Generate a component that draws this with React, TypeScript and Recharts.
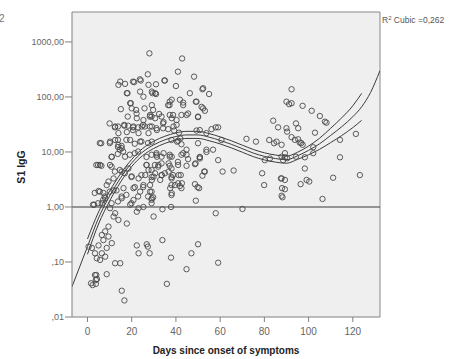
import { CartesianGrid, ComposedChart, Line, ReferenceLine, Scatter, XAxis, YAxis } from 'recharts'

const FONT = "'Liberation Sans', Arial, sans-serif"

// [days since onset, S1 IgG]
const s1Samples: [number, number][] = [
  [28.0, 620], [14.8, 190], [14.0, 166], [17.0, 173], [21.1, 186], [24.1, 199], [27.3, 258], [27.6, 166],
  [31.0, 170], [34.8, 199], [40.9, 288], [40.0, 158], [17.8, 117], [23.8, 125], [25.3, 101], [29.1, 125],
  [31.0, 113], [19.3, 77], [20.0, 62], [15.1, 60], [22.0, 58], [25.8, 62], [29.1, 71], [37.1, 71],
  [38.1, 89], [18.2, 44], [22.3, 41], [25.3, 38], [28.3, 47], [30.6, 41], [10.0, 33], [12.5, 29],
  [16.7, 30], [20.8, 29], [24.6, 29], [29.1, 29], [34.4, 35], [38.1, 41], [38.9, 29], [14.0, 22],
  [17.8, 23], [23.1, 22], [27.6, 22], [31.4, 25], [6.2, 14.4], [10.2, 15.4], [12.5, 16.5], [14.0, 13.4],
  [15.5, 11.7], [19.3, 16.5], [23.8, 15.4], [29.1, 15.4], [11.0, 8.2], [13.7, 9.2], [17.0, 8.2], [5.7, 5.8],
  [10.2, 5.8], [31.4, 8.2], [34.4, 9.5], [38.1, 8.2], [32.1, 5.8], [36.7, 6.2], [40.9, 6.6],
  [5.0, 1.95], [7.2, 1.8], [3.0, 1.1], [8.7, 2.5], [11.8, 2.0], [16.3, 2.2], [15.5, 1.44], [20.8, 2.2],
  [23.8, 1.9], [25.3, 2.5], [28.3, 1.9], [29.1, 1.44], [29.9, 3.55], [33.6, 3.8], [37.4, 2.2], [38.1, 1.78],
  [39.6, 2.5], [23.1, 0.95], [22.3, 0.82], [25.3, 1.0], [29.9, 0.67], [33.9, 0.91], [37.8, 1.0], [17.8, 0.5],
  [14.0, 0.58], [12.5, 0.77], [10.2, 0.95], [11.8, 0.67], [9.5, 0.44], [8.0, 0.36], [6.5, 0.31], [9.5, 0.29],
  [7.2, 0.25], [11.0, 0.22], [5.0, 0.2], [8.7, 0.18], [3.4, 0.144], [6.5, 0.144], [8.0, 0.125], [4.2, 0.117],
  [5.7, 0.109], [2.0, 0.18], [12.5, 0.095], [14.8, 0.095], [3.4, 0.058], [3.8, 0.047], [1.6, 0.041], [3.8, 0.04],
  [8.7, 0.06], [15.5, 0.03], [16.7, 0.02], [22.3, 0.2], [26.8, 0.21], [27.3, 0.19], [23.1, 0.144], [28.1, 0.144],
  [33.9, 0.25], [37.8, 0.12], [35.9, 0.04], [0.5, 0.19], [2.3, 0.038], [4.0, 0.058], [4.3, 0.049],
  [15.5, 4.4], [18.5, 5.0], [20.0, 3.6], [23.1, 3.3], [26.1, 3.8], [27.6, 4.7], [30.6, 4.1], [32.9, 3.1],
  [36.7, 4.4], [38.1, 3.3], [41.2, 3.8], [42.7, 2.7], [11.8, 3.3], [9.5, 2.9], [8.0, 1.44], [6.5, 1.17],
  [19.3, 1.1], [20.8, 1.34], [28.3, 2.5], [29.1, 3.1],
  [5.6, 14.5], [10.1, 14.5], [13.8, 16.6], [15.4, 12.9], [17.6, 16.6], [21.4, 14.1], [24.4, 15.5], [27.4, 14.5],
  [10.9, 8.1], [13.8, 12.3], [14.6, 11], [16.1, 10.2], [19.1, 8.9], [21.4, 9.5], [22.9, 10.2], [26.7, 8.1],
  [29.0, 8.9], [4.8, 5.8], [6.3, 5.6], [10.9, 5.4], [12.4, 4.4], [14.6, 4.7], [16.9, 4.1], [19.9, 3.5],
  [24.4, 3.8], [26.7, 5.8], [29.0, 4.7], [25.2, 2.3], [29.0, 3.5], [3.3, 1.8], [5.6, 1.9], [7.8, 1.55],
  [10.1, 1.9], [13.1, 2.0], [15.4, 1.55], [17.6, 1.66], [21.4, 2.3], [22.9, 1.55], [27.4, 1.55], [29.0, 1.35],
  [2.5, 1.1], [4.8, 1.17], [7.1, 1.35], [10.9, 1.17], [13.8, 1.26], [19.9, 1.17], [16.6, 31], [18.4, 30],
  [20.6, 28], [22.9, 28], [25.2, 31], [28.2, 29], [20.6, 190], [23.7, 209], [18.1, 117], [19.6, 77],
  [12.4, 28], [13.8, 29], [4.0, 5.8],
  [42.8, 500], [48.2, 234], [52.3, 144], [55.0, 113], [46.3, 117], [49.3, 82], [52.3, 62], [53.1, 56],
  [43.3, 71], [42.5, 47], [45.5, 50], [50.0, 44], [84.0, 37], [86.2, 28], [59.1, 28], [56.1, 26],
  [49.3, 24.5], [50.8, 25], [53.8, 22], [60.6, 16.5], [71.9, 17.3], [76.2, 15.4], [82.2, 16.5], [84.4, 14.4],
  [41.0, 16], [42.0, 17.5], [44.8, 11], [50.0, 14.4], [53.8, 11], [56.8, 11], [42.5, 8.9], [45.5, 7.4],
  [50.8, 7.6], [59.1, 7.1], [41.0, 5.8], [44.8, 5.6], [48.9, 6.2], [80.2, 7.1], [82.5, 7.6], [52.8, 4.4],
  [52.0, 3.7], [61.1, 4.4], [66.1, 4.6], [42.2, 3.8], [41.0, 2.7], [41.8, 2.4], [48.6, 2.6], [49.8, 2.3],
  [79.0, 4.1], [79.9, 2.5], [87.5, 3.3], [88.0, 2.2], [87.8, 1.6], [49.0, 1.3], [58.0, 0.77], [70.1, 0.92],
  [50.0, 0.21], [47.0, 0.144], [59.1, 0.097], [44.8, 0.074],
  [35.0, 199], [52.0, 138], [29.4, 117], [30.6, 117], [37.2, 82], [36.5, 71], [41.8, 89], [43.3, 79],
  [49.0, 82], [51.6, 66], [29.7, 58], [29.0, 44], [32.4, 49], [33.5, 44], [38.7, 47], [40.3, 38],
  [50.0, 43], [34.2, 27], [36.5, 26], [39.2, 24.5], [41.4, 22.4], [31.2, 27], [58.0, 28], [38.0, 16.5],
  [40.5, 15.4], [42.5, 13.8], [31.2, 8.9], [33.5, 8.2], [37.2, 8.2], [44.8, 8.9], [50.8, 8.0], [30.5, 5.8],
  [32.0, 5.4], [37.2, 5.6], [38.0, 5.0], [48.6, 6.0], [33.5, 3.8], [35.0, 4.1], [38.0, 3.5], [38.0, 2.5],
  [42.5, 2.2], [50.5, 2.2], [29.0, 1.9], [29.7, 1.5], [38.0, 1.65], [29.0, 1.17],
  [22.2, 50], [28.2, 44], [37.2, 47], [44.8, 47], [40.3, 31], [34.2, 33], [25.9, 29], [20.6, 25],
  [31.2, 9.5], [37.2, 8.9], [43.3, 9.5], [50.8, 8.1], [26.7, 5.8], [33.5, 6.2], [38.7, 3.8], [53.1, 4.4],
  [53.8, 10], [88.5, 7.1], [89.3, 9.5], [85.5, 15.4],
  [92.3, 138], [90.0, 82], [91.2, 74], [92.3, 77], [97.3, 69], [101.4, 56], [105.1, 45], [107.4, 35.5],
  [108.1, 34], [94.3, 33], [95.3, 27], [90.0, 27], [90.3, 23.4], [102.9, 22.4], [92.3, 18.6], [93.8, 16.6],
  [95.3, 17], [96.0, 14.8], [96.7, 14.5], [97.3, 13.5], [87.8, 13.5], [114.2, 16.6], [121.4, 21.3], [102.1, 12.2],
  [87.8, 8.2], [89.3, 8], [90.3, 7.7], [94.3, 8.2], [98.3, 8], [102.1, 9.5], [114.2, 8], [98.3, 5.0],
  [87.8, 3.3], [89.3, 3.1], [99.1, 3.1], [100.3, 2.9], [96.4, 2.6], [111.1, 3.4], [123.2, 3.8], [89.3, 2.1],
  [88.2, 1.5], [106.3, 1.4]
]

// cubic fit and its confidence band
const fitDays = [-7, 0, 5, 10, 15, 20, 25, 30, 35, 40, 45, 50, 55, 60, 65, 70, 75, 80, 85, 90, 95, 100, 105, 110, 115, 120, 124, 128, 132.3]
const fitCenter = [0.0355, 0.19, 0.63, 1.58, 3.39, 6.31, 10.0, 13.5, 16.6, 19.1, 20.4, 20.4, 18.6, 16.2, 13.8, 11.5, 9.55, 8.32, 7.59, 7.24, 8.51, 10.7, 14.1, 20.0, 28.8, 43.7, 66.1, 120, 302]
const fitUpper = [null, 0.262, 0.81, 1.94, 4.03, 7.32, 11.6, 15.7, 19.3, 22.2, 23.7, 23.7, 21.6, 18.8, 16.0, 13.3, 11.1, 9.65, 8.8, 8.4, 9.87, 12.8, 17.8, 27.0, 41.8, 69.0, 116, null, null]
const fitLower = [null, 0.138, 0.49, 1.28, 2.85, 5.44, 8.62, 11.6, 14.3, 16.5, 17.6, 17.6, 16.0, 14.0, 11.9, 9.9, 8.23, 7.17, 6.54, 6.24, 7.34, 8.9, 11.2, 14.8, 19.9, 27.7, 37.6, null, null]

const xTicks = [0, 20, 40, 60, 80, 100, 120]
const xDomain = [-7, 132.3]
const yTicks = [0.01, 0.1, 1, 10, 100, 1000]
const yTickLabels = [',01', ',10', '1,00', '10,00', '100,00', '1000,00']
const yDomain = [0.01, 3500]

const fitRows = fitDays.map((x, i) => ({ x, center: fitCenter[i], upper: fitUpper[i], lower: fitLower[i] }))
const points = s1Samples.map(([x, y]) => ({ x, y }))

const OpenCircle = (props: any) => (
  <circle cx={props.cx} cy={props.cy} r={2.7} fill="none" stroke="#4a4a4a" strokeWidth={0.9} />
)

export default function App() {
  return (
    <div style={{ position: 'absolute', left: 0, top: 0, width: 453, height: 359, background: '#fff' }}>
      <ComposedChart
        width={453}
        height={359}
        data={fitRows}
        margin={{ top: 12, right: 73, bottom: 12, left: 0 }}>
        <CartesianGrid fill="#efefef" horizontal={false} vertical={false} />
        <XAxis
          type="number"
          dataKey="x"
          domain={xDomain}
          ticks={xTicks}
          allowDataOverflow
          height={30}
          tickSize={5}
          tickMargin={6}
          stroke="#808080"
          tick={{ fontSize: 10, fill: '#666', fontFamily: FONT }}
        />
        <YAxis
          type="number"
          dataKey="y"
          scale="log"
          domain={yDomain}
          ticks={yTicks}
          allowDataOverflow
          width={72}
          tickSize={7}
          tickMargin={1}
          stroke="#808080"
          tickFormatter={(v: number) => yTickLabels[yTicks.indexOf(v)] ?? ''}
          tick={{ fontSize: 9, fill: '#666', fontFamily: FONT }}
        />
        <ReferenceLine y={yDomain[1]} stroke="#8a8a8a" />
        <ReferenceLine x={xDomain[1]} stroke="#8a8a8a" />
        <ReferenceLine y={1} stroke="#3a3a3a" strokeWidth={1.1} />
        <Scatter data={points} shape={OpenCircle} isAnimationActive={false} />
        <Line type="monotone" dataKey="upper" stroke="#3c3c3c" strokeWidth={1} dot={false} activeDot={false} isAnimationActive={false} />
        <Line type="monotone" dataKey="lower" stroke="#3c3c3c" strokeWidth={1} dot={false} activeDot={false} isAnimationActive={false} />
        <Line type="monotone" dataKey="center" stroke="#3c3c3c" strokeWidth={1} dot={false} activeDot={false} isAnimationActive={false} />
      </ComposedChart>
      <svg width={453} height={359} style={{ position: 'absolute', left: 0, top: 0, pointerEvents: 'none' }}>
        <text x={-1} y={22} fontSize={10} fill="#777" fontFamily={FONT}>2</text>
        <text
          x={0}
          y={0}
          transform="translate(25 167) rotate(-90)"
          textAnchor="middle"
          fontSize={10.5}
          fontWeight="bold"
          fill="#222"
          fontFamily={FONT}>
          S1 IgG
        </text>
        <text x={226} y={354} textAnchor="middle" fontSize={10} fontWeight="bold" fill="#222" fontFamily={FONT}>
          Days since onset of symptoms
        </text>
        <text x={382} y={23} fontSize={8.5} fill="#555" fontFamily={FONT}>
          R<tspan fontSize={6} dy={-3}>2</tspan>
          <tspan dy={3}> Cubic =0,262</tspan>
        </text>
      </svg>
    </div>
  )
}
